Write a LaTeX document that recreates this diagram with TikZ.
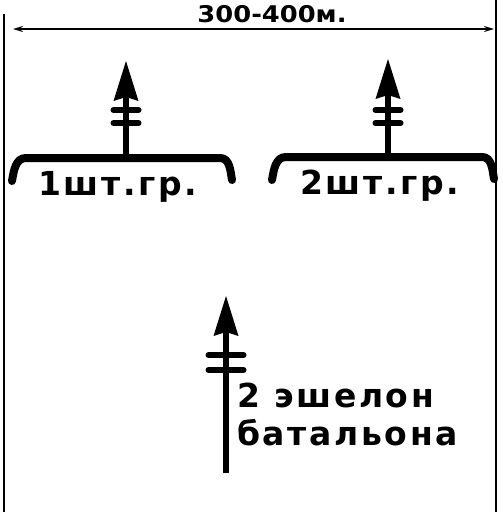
\documentclass[tikz,border=0pt]{standalone}
\usepackage{fontspec}
\setmainfont{DejaVu Sans}
\newfontfamily\headfont[FakeStretch=1.12]{DejaVu Sans}
\newfontfamily\grpfont[LetterSpace=8.0]{DejaVu Sans}
\usetikzlibrary{arrows.meta,positioning}
\tikzstyle{frame} = [line width=1.6pt]
\tikzstyle{bracket} = [line width=8pt, line cap=round, line join=round]
\tikzstyle{stem} = [line width=6pt,
    -{Stealth[length=40pt,width=25pt,inset=4pt,line width=0pt]}]
\tikzstyle{bar} = [line width=6pt, line cap=round]
\tikzstyle{grplabel} = [inner sep=0pt, anchor=base west,
    font=\grpfont\bfseries\fontsize{33}{38}\selectfont]
\tikzstyle{headlabel} = [inner sep=0pt, anchor=base,
    font=\headfont\bfseries\fontsize{23}{25}\selectfont]

\begin{document}
\begin{tikzpicture}[x=1pt,y=-1pt]
\useasboundingbox (0,0) rectangle (503,512);

% frame and width
\coordinate (topL) at (4,14);
\coordinate (botL) at (4,512);
\coordinate (topR) at (496,0);
\coordinate (botR) at (496,512);
\draw[frame] (topL) -- (botL);
\draw[frame] (topR) -- (botR);

\coordinate (dimL) at (13,29);
\coordinate (dimR) at (494,29);
\draw[frame, {Stealth[length=10pt,width=6pt]}-{Stealth[length=10pt,width=6pt]}]
    (dimL) -- (dimR);
\node[headlabel] (width) at (272,22) {300-400м.};

% 1st assault group
\coordinate (g1) at (126,158);
\coordinate (g1tip) at (126,61);
\draw[bracket] (12,181) to[out=80,in=180] (26,158) -- (220,158)
    to[out=0,in=100] (232,180);
\draw[stem] (g1) -- (g1tip);
\draw[bar] (g1) ++(-12.5,-48) -- ++(25,0);
\draw[bar] (g1) ++(-12.5,-35) -- ++(25,0);
\node[grplabel] (grp1) at (38,195) {1шт.гр.};

% 2nd assault group
\coordinate (g2) at (388,157);
\coordinate (g2tip) at (388,59);
\draw[bracket] (272,180) to[out=80,in=180] (286,157) -- (482,157)
    to[out=0,in=100] (494,179);
\draw[stem] (g2) -- (g2tip);
\draw[bar] (g2) ++(-12.5,-47) -- ++(25,0);
\draw[bar] (g2) ++(-12.5,-34) -- ++(25,0);
\node[grplabel] (grp2) at (300,194) {2шт.гр.};

% battalion 2nd echelon
\coordinate (e2) at (226,473);
\coordinate (e2tip) at (226,296);
\draw[stem] (e2) -- (e2tip);
\draw[bar] (e2) ++(-17.5,-118) -- ++(35,0);
\draw[bar] (e2) ++(-17.5,-103) -- ++(35,0);
\node[grplabel] (echelon) at (237,407) {2 эшелон};
\node[grplabel] (battalion) at ([yshift=-38pt]echelon.base west) {батальона};

\end{tikzpicture}
\end{document}
